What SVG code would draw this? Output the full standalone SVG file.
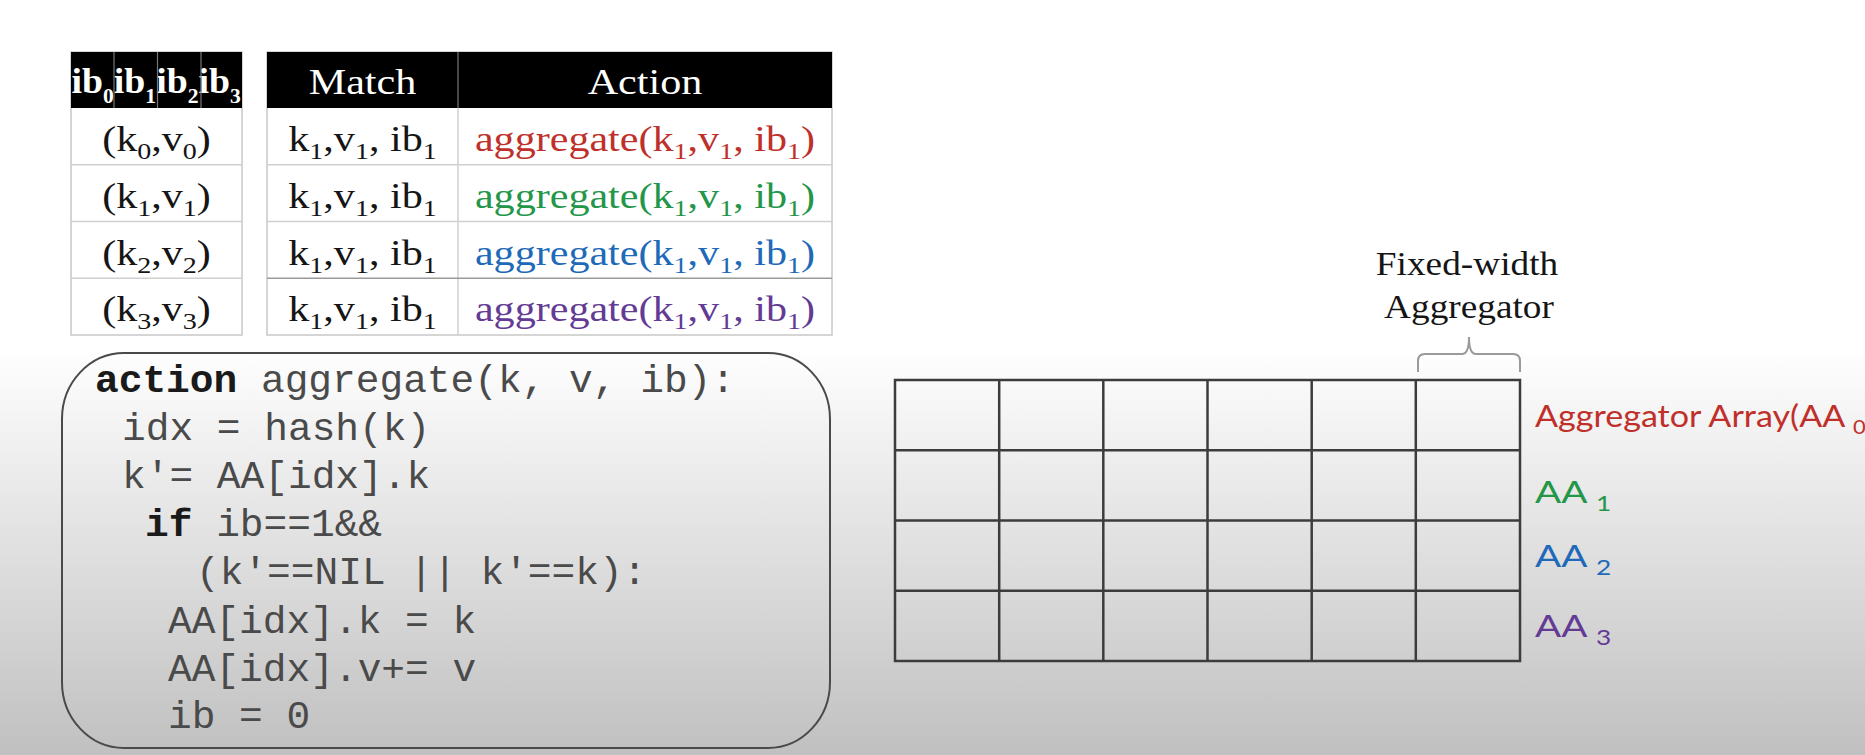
<svg xmlns="http://www.w3.org/2000/svg" width="1865" height="755" viewBox="0 0 1865 755">
<defs>
<linearGradient id="bg" x1="0" y1="0" x2="0" y2="755" gradientUnits="userSpaceOnUse">
<stop offset="0" stop-color="#ffffff"/>
<stop offset="0.46" stop-color="#ffffff"/>
<stop offset="1" stop-color="#c0c0c0"/>
</linearGradient>
<clipPath id="ibclip"><rect x="71" y="52" width="171" height="56"/></clipPath>
</defs>
<style>
.serif{font-family:"Liberation Serif","Times New Roman",serif;font-size:36px;fill:#151515}
.hdr{font-family:"Liberation Serif","Times New Roman",serif;font-size:36px;fill:#ffffff}
.sub{font-size:24px}
.cell{fill:#ffffff;stroke:#c8c8c8;stroke-width:1.5}
.rowline{stroke:#d0d0d0;stroke-width:1.5}
.hline{stroke:#777;stroke-width:1.2}
.code{font-family:"Liberation Mono","Courier New",monospace;font-size:39.5px;fill:#4a4a4a}
.kw{font-weight:bold;fill:#1a1a1a}
.grid{stroke:#3c3c3c;stroke-width:2.5;fill:none}
.lbl{font-family:Lato,"Open Sans",sans-serif;font-size:31px}
.red{fill:#c0302b}
.green{fill:#23964a}
.blue{fill:#1f6ab8}
.purple{fill:#633b95}
</style>
<rect x="0" y="0" width="1865" height="755" fill="url(#bg)"/>

<g id="table-ib">
<rect class="cell" x="71" y="52" width="171" height="283"/>
<rect x="71" y="52" width="171" height="56" fill="#000"/>
<g clip-path="url(#ibclip)">
<text class="hdr" font-weight="bold" transform="translate(71.5,93) scale(1.08,1)" style="font-size:35px">ib<tspan font-size="20" dy="10">0</tspan><tspan dy="-10">ib</tspan><tspan font-size="20" dy="10">1</tspan><tspan dy="-10">ib</tspan><tspan font-size="20" dy="10">2</tspan><tspan dy="-10">ib</tspan><tspan font-size="20" dy="10">3</tspan></text>
</g>
<line class="hline" x1="114" y1="52" x2="114" y2="108"/>
<line class="hline" x1="157.5" y1="52" x2="157.5" y2="108"/>
<line class="hline" x1="201" y1="52" x2="201" y2="108"/>
<line class="rowline" x1="71" y1="164.75" x2="242" y2="164.75"/>
<line class="rowline" x1="71" y1="221.5" x2="242" y2="221.5"/>
<line class="rowline" x1="71" y1="278.25" x2="242" y2="278.25"/>
<text class="serif" text-anchor="middle" transform="translate(156.5,151) scale(1.17,1)">(k<tspan class="sub" dy="8">0</tspan><tspan dy="-8">,v</tspan><tspan class="sub" dy="8">0</tspan><tspan dy="-8">)</tspan></text>
<text class="serif" text-anchor="middle" transform="translate(156.5,208) scale(1.17,1)">(k<tspan class="sub" dy="8">1</tspan><tspan dy="-8">,v</tspan><tspan class="sub" dy="8">1</tspan><tspan dy="-8">)</tspan></text>
<text class="serif" text-anchor="middle" transform="translate(156.5,265) scale(1.17,1)">(k<tspan class="sub" dy="8">2</tspan><tspan dy="-8">,v</tspan><tspan class="sub" dy="8">2</tspan><tspan dy="-8">)</tspan></text>
<text class="serif" text-anchor="middle" transform="translate(156.5,321) scale(1.17,1)">(k<tspan class="sub" dy="8">3</tspan><tspan dy="-8">,v</tspan><tspan class="sub" dy="8">3</tspan><tspan dy="-8">)</tspan></text>
</g>

<g id="table-match-action">
<rect class="cell" x="267" y="52" width="565" height="283"/>
<rect x="267" y="52" width="565" height="56" fill="#000"/>
<line class="hline" x1="458" y1="52" x2="458" y2="108"/>
<line class="rowline" x1="458" y1="108" x2="458" y2="335"/>
<line class="rowline" x1="267" y1="164.75" x2="832" y2="164.75"/>
<line class="rowline" x1="267" y1="221.5" x2="832" y2="221.5"/>
<line x1="267" y1="278.25" x2="832" y2="278.25" stroke="#9a9a9a" stroke-width="1.5"/>
<text class="hdr" text-anchor="middle" transform="translate(362.5,94) scale(1.17,1)">Match</text>
<text class="hdr" text-anchor="middle" transform="translate(645,94) scale(1.17,1)">Action</text>
<text class="serif" text-anchor="middle" transform="translate(362.5,151) scale(1.17,1)">k<tspan class="sub" dy="8">1</tspan><tspan dy="-8">,v</tspan><tspan class="sub" dy="8">1</tspan><tspan dy="-8">, ib</tspan><tspan class="sub" dy="8">1</tspan></text>
<text class="serif" text-anchor="middle" transform="translate(362.5,208) scale(1.17,1)">k<tspan class="sub" dy="8">1</tspan><tspan dy="-8">,v</tspan><tspan class="sub" dy="8">1</tspan><tspan dy="-8">, ib</tspan><tspan class="sub" dy="8">1</tspan></text>
<text class="serif" text-anchor="middle" transform="translate(362.5,265) scale(1.17,1)">k<tspan class="sub" dy="8">1</tspan><tspan dy="-8">,v</tspan><tspan class="sub" dy="8">1</tspan><tspan dy="-8">, ib</tspan><tspan class="sub" dy="8">1</tspan></text>
<text class="serif" text-anchor="middle" transform="translate(362.5,321) scale(1.17,1)">k<tspan class="sub" dy="8">1</tspan><tspan dy="-8">,v</tspan><tspan class="sub" dy="8">1</tspan><tspan dy="-8">, ib</tspan><tspan class="sub" dy="8">1</tspan></text>
<text class="serif red" text-anchor="middle" transform="translate(645,151) scale(1.17,1)">aggregate(k<tspan class="sub" dy="8">1</tspan><tspan dy="-8">,v</tspan><tspan class="sub" dy="8">1</tspan><tspan dy="-8">, ib</tspan><tspan class="sub" dy="8">1</tspan><tspan dy="-8">)</tspan></text>
<text class="serif green" text-anchor="middle" transform="translate(645,208) scale(1.17,1)">aggregate(k<tspan class="sub" dy="8">1</tspan><tspan dy="-8">,v</tspan><tspan class="sub" dy="8">1</tspan><tspan dy="-8">, ib</tspan><tspan class="sub" dy="8">1</tspan><tspan dy="-8">)</tspan></text>
<text class="serif blue" text-anchor="middle" transform="translate(645,265) scale(1.17,1)">aggregate(k<tspan class="sub" dy="8">1</tspan><tspan dy="-8">,v</tspan><tspan class="sub" dy="8">1</tspan><tspan dy="-8">, ib</tspan><tspan class="sub" dy="8">1</tspan><tspan dy="-8">)</tspan></text>
<text class="serif purple" text-anchor="middle" transform="translate(645,321) scale(1.17,1)">aggregate(k<tspan class="sub" dy="8">1</tspan><tspan dy="-8">,v</tspan><tspan class="sub" dy="8">1</tspan><tspan dy="-8">, ib</tspan><tspan class="sub" dy="8">1</tspan><tspan dy="-8">)</tspan></text>
</g>

<g id="code-box">
<rect x="62" y="353" width="768" height="395" rx="62" ry="66" fill="none" stroke="#4a4a4a" stroke-width="2"/>
<text class="code" x="95" y="392" xml:space="preserve"><tspan class="kw">action</tspan> aggregate(k, v, ib):</text>
<text class="code" x="122" y="440" xml:space="preserve">idx = hash(k)</text>
<text class="code" x="122" y="488" xml:space="preserve">k'= AA[idx].k</text>
<text class="code" x="145" y="536" xml:space="preserve"><tspan class="kw">if</tspan> ib==1&amp;&amp;</text>
<text class="code" x="196" y="584" xml:space="preserve">(k'==NIL || k'==k):</text>
<text class="code" x="168" y="633" xml:space="preserve">AA[idx].k = k</text>
<text class="code" x="168" y="681" xml:space="preserve">AA[idx].v+= v</text>
<text class="code" x="168" y="728" xml:space="preserve">ib = 0</text>
</g>

<g id="aggregator-grid">
<rect class="grid" x="895" y="380" width="625" height="281"/>
<line class="grid" x1="999.2" y1="380" x2="999.2" y2="661"/>
<line class="grid" x1="1103.3" y1="380" x2="1103.3" y2="661"/>
<line class="grid" x1="1207.5" y1="380" x2="1207.5" y2="661"/>
<line class="grid" x1="1311.7" y1="380" x2="1311.7" y2="661"/>
<line class="grid" x1="1415.8" y1="380" x2="1415.8" y2="661"/>
<line class="grid" x1="895" y1="450.25" x2="1520" y2="450.25"/>
<line class="grid" x1="895" y1="520.5" x2="1520" y2="520.5"/>
<line class="grid" x1="895" y1="590.75" x2="1520" y2="590.75"/>
</g>

<g id="fixed-width-label">
<text class="serif" text-anchor="middle" transform="translate(1467,275) scale(1.13,1)" style="font-size:33px">Fixed-width</text>
<text class="serif" text-anchor="middle" transform="translate(1469,318) scale(1.13,1)" style="font-size:33px">Aggregator</text>
</g>

<g id="connectors">
<path d="M1418,372 L1418,361 Q1418,354 1425,354 L1462,354 Q1469,354 1469,337 Q1469,354 1476,354 L1513,354 Q1520,354 1520,361 L1520,372" fill="none" stroke="#9a9a9a" stroke-width="2"/>
</g>

<g id="aa-labels">
<text class="lbl red" transform="translate(1535,427) scale(1.1,1)">Aggregator Array(AA <tspan font-size="20" dy="7">0</tspan></text>
<text class="lbl green" transform="translate(1535,503) scale(1.25,1)">AA <tspan font-size="21" dy="8">1</tspan></text>
<text class="lbl blue" transform="translate(1535,567) scale(1.25,1)">AA <tspan font-size="21" dy="8">2</tspan></text>
<text class="lbl purple" transform="translate(1535,637) scale(1.25,1)">AA <tspan font-size="21" dy="8">3</tspan></text>
</g>
</svg>
